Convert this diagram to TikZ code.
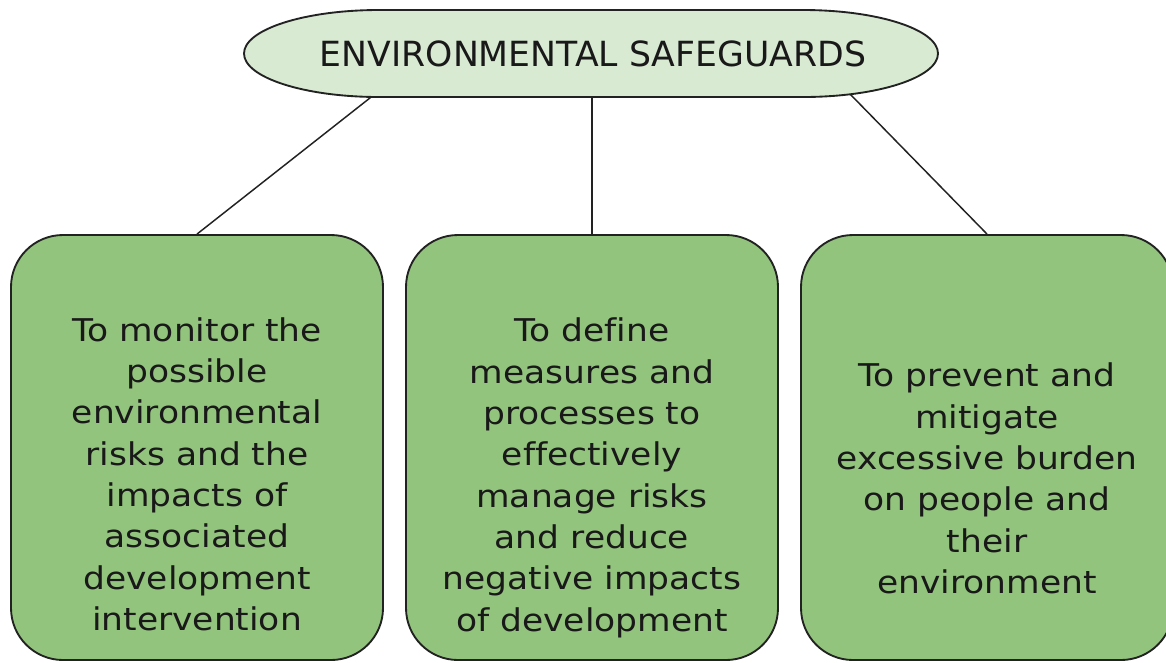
\documentclass[tikz,border=0pt]{standalone}
\usepackage{fontspec}
\setmainfont[Ligatures=NoCommon]{DejaVu Sans}
\newfontfamily\bodyfont[Ligatures=NoCommon,FakeStretch=1.1]{DejaVu Sans}
\definecolor{ellfill}{HTML}{D9EAD3}
\definecolor{boxfill}{HTML}{93C47D}
\definecolor{edgecol}{HTML}{222222}
\begin{document}
\begin{tikzpicture}[x=0.75pt,y=-0.75pt,
  goalbox/.style={draw=edgecol,fill=boxfill,line width=1.4pt,rectangle,rounded corners=39pt,
    minimum width=279pt,minimum height=318.75pt,inner sep=0pt},
  goaltext/.style={align=center,inner sep=0pt,font=\bodyfont\fontsize{23.5}{31}\selectfont,text=black!90},
  headshape/.style={draw=edgecol,fill=ellfill,line width=1.4pt},
  headtext/.style={inner sep=0pt,font=\fontsize{26}{30}\selectfont,text=black!90},
  link/.style={draw=edgecol,line width=1.1pt}]
\useasboundingbox (0,0) rectangle (1166,662);
\fill[white] (0,0) rectangle (1166,662);
\node[goalbox] (box1) at (197,447.5) {};
\node[goalbox] (box2) at (592,447.5) {};
\node[goalbox] (box3) at (987,447.5) {};
\node[goaltext] (t1) at (197,474.1) {To monitor the\\possible\\environmental\\risks and the\\impacts of\\associated\\development\\intervention};
\node[goaltext] (t2) at (592,477.8) {To define\\measures and\\processes to\\effectively\\manage risks\\and reduce\\negative impacts\\of development};
\node[goaltext] (t3) at (987,478.6) {To prevent and\\mitigate\\excessive burden\\on people and\\their\\environment};
\coordinate (e1) at (375,94);
\coordinate (e2) at (592,94);
\coordinate (e3) at (850,94);
\draw[link] (box1.north) -- (e1);
\draw[link] (box2.north) -- (e2);
\draw[link] (box3.north) -- (e3);
\filldraw[headshape] (379,10) -- (803,10)
  arc[start angle=-90,end angle=90,x radius=135,y radius=43.5]
  -- (379,97)
  arc[start angle=90,end angle=270,x radius=135,y radius=43.5] -- cycle;
\node[headtext] (head) at (593,54) {ENVIRONMENTAL SAFEGUARDS};
\end{tikzpicture}
\end{document}
